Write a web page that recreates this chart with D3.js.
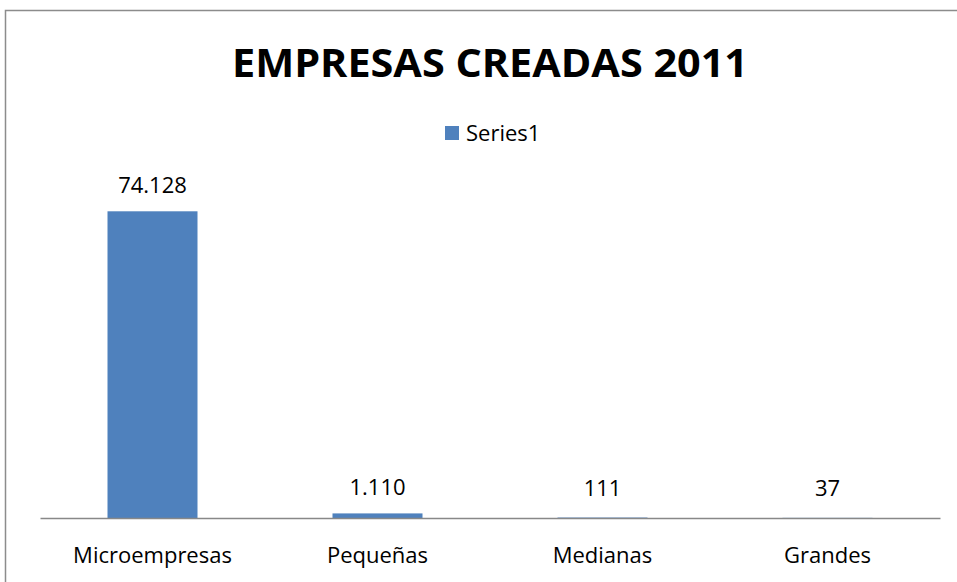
<!DOCTYPE html>
<html>
<head>
<meta charset="utf-8">
<script src="https://cdn.jsdelivr.net/npm/d3@7"></script>
<style>
  body { margin: 0; background: #fff; }
  svg text { font-family: "Open Sans", "DejaVu Sans", sans-serif; fill: #000; }
</style>
</head>
<body>
<svg id="chart" width="957" height="582"></svg>
<script>
var categories = ["Microempresas", "Pequeñas", "Medianas", "Grandes"];
var values = [74128, 1110, 111, 37];
var valueLabels = ["74.128", "1.110", "111", "37"];
var seriesName = "Series1";
var title = "EMPRESAS CREADAS 2011";

var svg = d3.select("#chart");
var width = +svg.attr("width"),
    height = +svg.attr("height");

var x = d3.scaleBand()
    .domain(categories)
    .range([40, 940])
    .paddingInner(0.6)
    .paddingOuter(0.3);

var y = d3.scaleLinear()
    .domain([0, 80000])
    .range([518, 187]);

// chart frame (top and left edges visible)
svg.append("path")
    .attr("d", "M5.5," + height + "V10.5H" + width)
    .attr("fill", "none")
    .attr("stroke", "#8c8c8c")
    .attr("stroke-width", 1.5);

svg.append("text")
    .attr("x", 490)
    .attr("y", 77)
    .attr("text-anchor", "middle")
    .attr("font-size", 40)
    .attr("font-weight", "bold")
    .attr("textLength", 516)
    .attr("lengthAdjust", "spacingAndGlyphs")
    .text(title);

// legend
var legend = svg.append("g").attr("transform", "translate(445,126)");
legend.append("rect")
    .attr("width", 14).attr("height", 14)
    .attr("fill", "#4f81bd");
legend.append("text")
    .attr("x", 21).attr("y", 15)
    .attr("font-size", 22)
    .text(seriesName);

// bars
svg.append("g").selectAll("rect")
    .data(values)
    .join("rect")
    .attr("x", function(d, i){ return x(categories[i]); })
    .attr("y", function(d){ return y(d); })
    .attr("width", x.bandwidth())
    .attr("height", function(d){ return y(0) - y(d); })
    .attr("fill", "#4f81bd");

// value labels
svg.append("g").selectAll("text")
    .data(values)
    .join("text")
    .attr("x", function(d, i){ return x(categories[i]) + x.bandwidth() / 2; })
    .attr("y", function(d){ return Math.min(y(d), 514) - 18; })
    .attr("text-anchor", "middle")
    .attr("font-size", 22)
    .text(function(d, i){ return valueLabels[i]; });

// category axis
var xAxis = d3.axisBottom(x).tickSize(0).tickPadding(29);
var gX = svg.append("g")
    .attr("transform", "translate(0," + y(0) + ")")
    .call(xAxis);
gX.select(".domain")
    .attr("stroke", "#888")
    .attr("stroke-width", 1.5);
gX.selectAll("text")
    .attr("font-size", 22)
    .attr("font-family", "\"Open Sans\", sans-serif")
    .attr("fill", "#000");
</script>
</body>
</html>
